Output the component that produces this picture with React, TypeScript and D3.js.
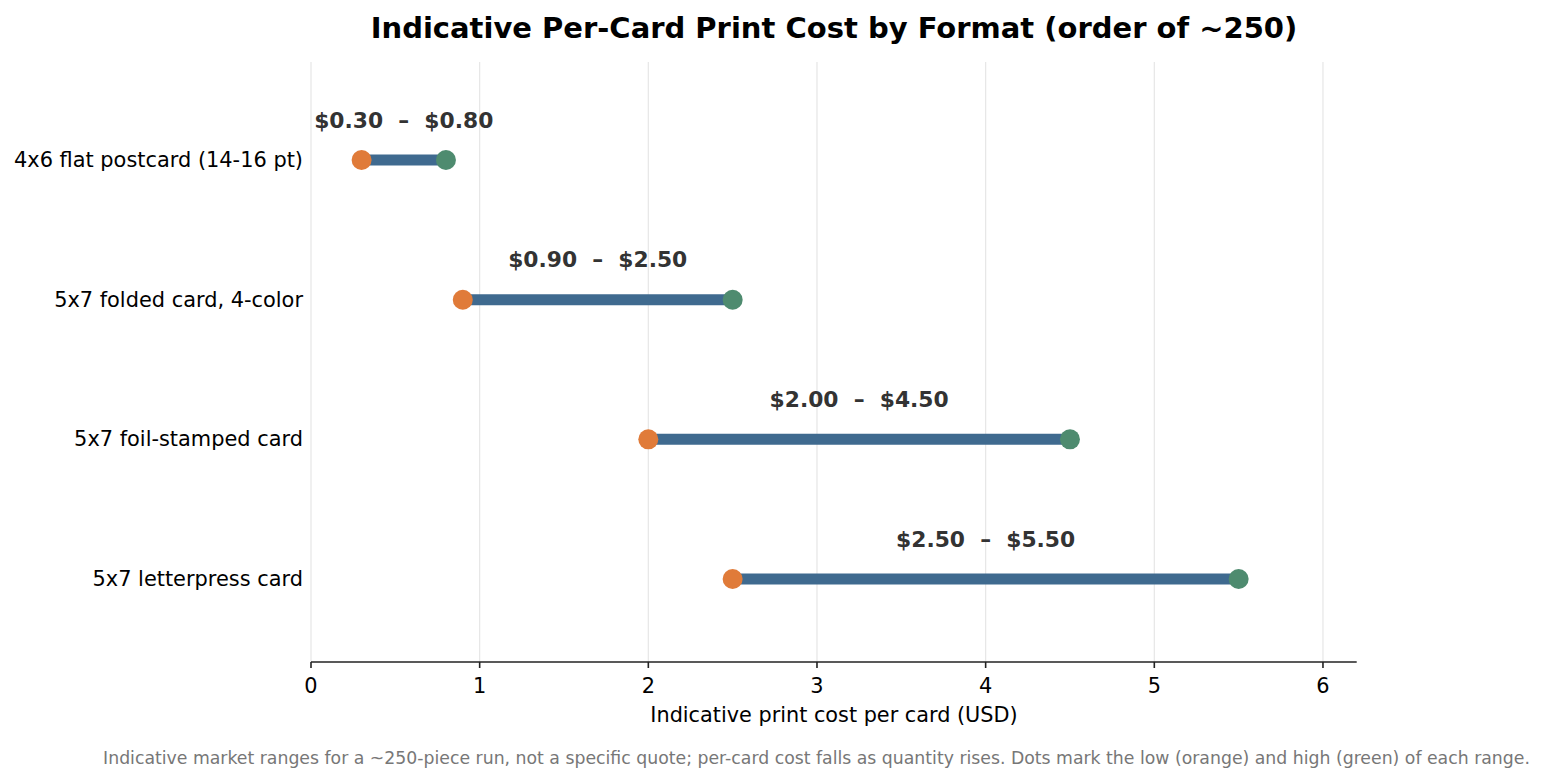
import React from "react";
import * as d3 from "d3";

const categories = [
  "4x6 flat postcard (14-16 pt)",
  "5x7 folded card, 4-color",
  "5x7 foil-stamped card",
  "5x7 letterpress card",
];
const lowValues = [0.3, 0.9, 2.0, 2.5];
const highValues = [0.8, 2.5, 4.5, 5.5];
const xTicks = [0, 1, 2, 3, 4, 5, 6];

const W = 1547;
const H = 783;
const M = { left: 311, right: 1356.7, top: 62, bottom: 662 };
const FONT = "'DejaVu Sans', sans-serif";
const ORANGE = "#E07B39";
const GREEN = "#4E8B6F";
const BLUE = "#3F6A8F";

export default function App() {
  const x = d3.scaleLinear().domain([0, 6.2]).range([M.left, M.right]);
  const y = d3.scaleLinear().domain([-0.702, 3.594]).range([M.top, M.bottom]);
  const fmt = (v: number) => "$" + d3.format(".2f")(v);

  return (
    <div style={{ position: "fixed", left: 0, top: 0, width: W, height: H, background: "#fff" }}>
      <svg width={W} height={H} style={{ display: "block", fontFamily: FONT }}>
        <rect width={W} height={H} fill="#fff" />
        {xTicks.map((t) => (
          <line key={"g" + t} x1={x(t)} x2={x(t)} y1={M.top} y2={M.bottom} stroke="#e6e6e6" strokeWidth={1.2} />
        ))}
        <line x1={M.left} x2={M.right} y1={M.bottom} y2={M.bottom} stroke="#222" strokeWidth={1.6} />
        {xTicks.map((t) => (
          <g key={"t" + t}>
            <line x1={x(t)} x2={x(t)} y1={M.bottom} y2={M.bottom + 6} stroke="#222" strokeWidth={1.6} />
            <text x={x(t)} y={M.bottom + 24} textAnchor="middle" dominantBaseline="central" fontSize={20.9} fill="#000">
              {t}
            </text>
          </g>
        ))}
        {categories.map((c, i) => {
          const cy = y(i);
          const lo = lowValues[i];
          const hi = highValues[i];
          return (
            <g key={c}>
              <text x={M.left - 8} y={cy} textAnchor="end" dominantBaseline="central" fontSize={20.9} fill="#000">
                {c}
              </text>
              <line x1={x(lo)} x2={x(hi)} y1={cy} y2={cy} stroke={BLUE} strokeWidth={11} />
              <circle cx={x(lo)} cy={cy} r={10} fill={ORANGE} />
              <circle cx={x(hi)} cy={cy} r={10} fill={GREEN} />
              <text
                x={x((lo + hi) / 2)}
                y={cy - 40}
                textAnchor="middle"
                dominantBaseline="central"
                fontSize={21.8}
                fontWeight="bold"
                fill="#333"
                style={{ whiteSpace: "pre" }}
              >
                {fmt(lo) + "  \u2013  " + fmt(hi)}
              </text>
            </g>
          );
        })}
        <text x={834} y={28} textAnchor="middle" dominantBaseline="central" fontSize={29} fontWeight="bold" fill="#000">
          Indicative Per-Card Print Cost by Format (order of ~250)
        </text>
        <text x={834} y={715} textAnchor="middle" dominantBaseline="central" fontSize={20.8} fill="#000">
          Indicative print cost per card (USD)
        </text>
        <text x={816.5} y={758} textAnchor="middle" dominantBaseline="central" fontSize={17.3} fill="#777">
          Indicative market ranges for a ~250-piece run, not a specific quote; per-card cost falls as quantity rises. Dots mark the low (orange) and high (green) of each range.
        </text>
      </svg>
    </div>
  );
}
